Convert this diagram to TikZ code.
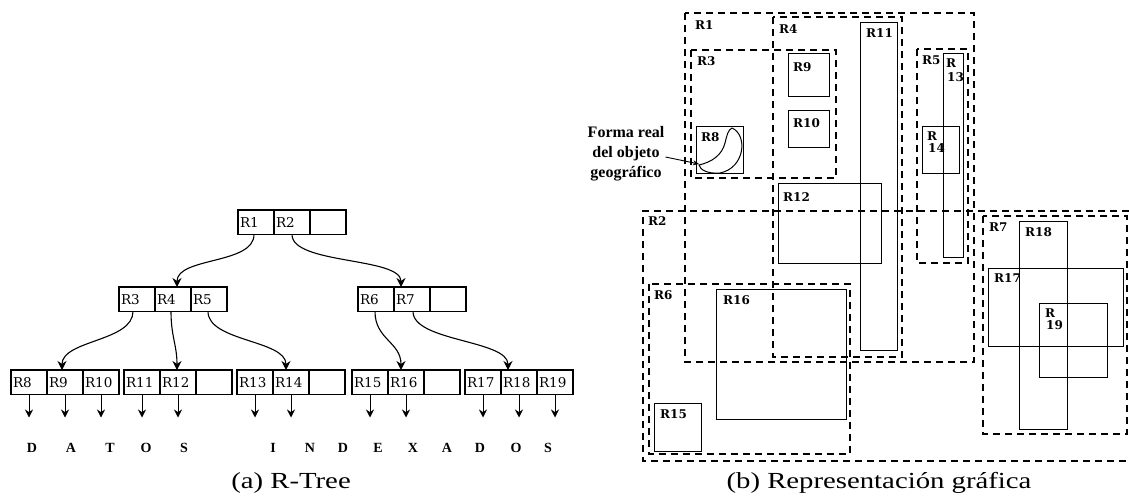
\documentclass[tikz,border=0pt]{standalone}
\usepackage{fontspec}
\usepackage{graphicx}
\setmainfont{Liberation Serif}
\newfontfamily\slabfont{DejaVu Serif}
\usetikzlibrary{arrows.meta}
\begin{document}
\begin{tikzpicture}[x=1pt,y=1pt,
  cell/.style={draw, line width=1.2pt, minimum width=36pt, minimum height=24.5pt, text width=32pt, inner sep=2pt, outer sep=0pt, align=left, font=\slabfont\fontsize{13.5}{13.5}\selectfont},
  treearrow/.style={line width=1.1pt, -{Stealth[length=9pt,width=9pt]}},
  dataarrow/.style={line width=1pt, -{Stealth[length=8pt,width=8pt]}},
  letter/.style={font=\bfseries\fontsize{14}{14}\selectfont, inner sep=0pt},
  mbr/.style={dash pattern=on 7pt off 5pt, line width=1.2pt},
  obj/.style={line width=1pt},
  rlab/.style={anchor=west, inner sep=0pt, font=\slabfont\bfseries\fontsize{12}{12}\selectfont},
  caption/.style={font=\fontsize{23}{23}\selectfont, inner sep=0pt}
]
\useasboundingbox (0,0) rectangle (1129,-497);

% ---------- (a) R-Tree ----------
% root
\node[cell, anchor=north west] (n1) at (238,-210) {R1};
\node[cell, anchor=west] (n2) at (n1.east) {R2};
\node[cell, anchor=west] (n0) at (n2.east) {};
% level 2
\node[cell, anchor=north west] (n3) at (119,-287) {R3};
\node[cell, anchor=west] (n4) at (n3.east) {R4};
\node[cell, anchor=west] (n5) at (n4.east) {R5};
\node[cell, anchor=north west] (n6) at (358,-287) {R6};
\node[cell, anchor=west] (n7) at (n6.east) {R7};
\node[cell, anchor=west] (nb) at (n7.east) {};
% leaves
\node[cell, anchor=north west] (n8) at (11,-370) {R8};
\node[cell, anchor=west] (n9) at (n8.east) {R9};
\node[cell, anchor=west] (n10) at (n9.east) {R10};
\node[cell, anchor=north west] (n11) at (124,-370) {R11};
\node[cell, anchor=west] (n12) at (n11.east) {R12};
\node[cell, anchor=west] (la) at (n12.east) {};
\node[cell, anchor=north west] (n13) at (237,-370) {R13};
\node[cell, anchor=west] (n14) at (n13.east) {R14};
\node[cell, anchor=west] (lb) at (n14.east) {};
\node[cell, anchor=north west] (n15) at (352,-370) {R15};
\node[cell, anchor=west] (n16) at (n15.east) {R16};
\node[cell, anchor=west] (lc) at (n16.east) {};
\node[cell, anchor=north west] (n17) at (465,-370) {R17};
\node[cell, anchor=west] (n18) at (n17.east) {R18};
\node[cell, anchor=west] (n19) at (n18.east) {R19};

% tree connectors
\draw[treearrow] ([xshift=-2pt]n1.south) .. controls +(0,-30) and +(0,30) .. ([xshift=4pt]n4.north);
\draw[treearrow] (n2.south) .. controls +(0,-30) and +(0,30) .. ([xshift=-11pt]n7.north);
\draw[treearrow] ([xshift=-4pt]n3.south) .. controls +(0,-30) and +(0,30) .. ([xshift=-3pt]n9.north);
\draw[treearrow] ([xshift=-2pt]n4.south) .. controls +(0,-25) and +(0,25) .. ([xshift=-1pt]n12.north);
\draw[treearrow] ([xshift=-1pt]n5.south) .. controls +(0,-30) and +(0,30) .. ([xshift=-5pt]n14.north);
\draw[treearrow] ([xshift=-1pt]n6.south) .. controls +(0,-28) and +(0,28) .. ([xshift=-5pt]n16.north);
\draw[treearrow] ([xshift=1pt]n7.south) .. controls +(0,-30) and +(0,30) .. ([xshift=-11pt]n18.north);

% data pointers
\foreach \c in {n8,n9,n10,n11,n12,n13,n14,n15,n16,n17,n18,n19}
  \draw[dataarrow] (\c.south) -- ++(0,-23) coordinate (\c-end);

% letters
\foreach \ch/\xx [count=\i] in {D/32,A/71,T/110,O/146,S/184,I/273,N/310,D/343,E/378,X/413,A/447,D/480,O/516,S/548}
  \node[letter] (let\i) at (\xx,-448) {\ch};

\node[caption] (capa) at (291,-483) {\scalebox{1.25}[1]{(a) R-Tree}};

% ---------- (b) Representacion grafica ----------
% dashed MBRs
\draw[mbr] (685,-13) rectangle (974,-362);
\draw[mbr] (773,-17) rectangle (902,-357);
\draw[mbr] (691,-50) rectangle (836,-178);
\draw[mbr] (917,-49) rectangle (968,-263);
\draw[mbr] (1129,-211) -- (643,-211) -- (643,-461) -- (1129,-461);
\draw[mbr] (649,-284) rectangle (850,-454);
\draw[mbr] (983,-216) rectangle (1127,-434);

% solid object rectangles
\draw[obj] (860,-23) rectangle (897,-350);
\draw[obj] (788,-54) rectangle (829,-97);
\draw[obj] (788,-111) rectangle (829,-148);
\draw[obj] (696,-127) rectangle (743,-174);
\draw[obj] (778,-184) rectangle (881,-263);
\draw[obj] (943,-54) rectangle (963,-257);
\draw[obj] (922,-127) rectangle (959,-174);
\draw[obj] (716,-289) rectangle (846,-419);
\draw[obj] (654,-403) rectangle (701,-451);
\draw[obj] (988,-268) rectangle (1123,-346);
\draw[obj] (1019,-221) rectangle (1067,-429);
\draw[obj] (1039,-303) rectangle (1107,-377);

% crescent object
\draw[obj] (732,-128) .. controls (748,-135) and (745,-168) .. (720,-173)
  .. controls (708,-174) and (700,-170) .. (699,-165)
  .. controls (712,-162) and (722,-155) .. (725,-143)
  .. controls (727,-135) and (728,-130) .. (732,-128);

% labels
\node[rlab] (lR1) at (695,-25) {R1};
\node[rlab] (lR4) at (779,-29) {R4};
\node[rlab] (lR3) at (697,-61) {R3};
\node[rlab] (lR9) at (793,-67) {R9};
\node[rlab] (lR10) at (793,-123) {R10};
\node[rlab] (lR8) at (701,-137) {R8};
\node[rlab] (lR12) at (783,-197) {R12};
\node[rlab] (lR2) at (648,-221) {R2};
\node[rlab] (lR11) at (866,-33) {R11};
\node[rlab] (lR5) at (922,-60) {R5};
\node[rlab] (lR13a) at (946,-63) {R};
\node[rlab] (lR13b) at (947,-77) {13};
\node[rlab] (lR14a) at (927,-136) {R};
\node[rlab] (lR14b) at (928,-148) {14};
\node[rlab] (lR7) at (989,-227) {R7};
\node[rlab] (lR18) at (1025,-232) {R18};
\node[rlab] (lR17) at (994,-278) {R17};
\node[rlab] (lR19a) at (1045,-313) {R};
\node[rlab] (lR19b) at (1046,-325) {19};
\node[rlab] (lR16) at (723,-300) {R16};
\node[rlab] (lR15) at (660,-414) {R15};
\node[rlab] (lR6) at (654,-295) {R6};

% annotation
\node[font=\bfseries\fontsize{16}{20}\selectfont, align=center, inner sep=1pt] (annot) at (626,-154) {Forma real\\del objeto\\geográfico};
\coordinate (blobtip) at (699,-164);
\draw[line width=0.9pt, -{Stealth[length=6pt,width=5pt]}] ([yshift=-3pt]annot.east) -- (blobtip);

\node[caption] (capb) at (879,-483) {\scalebox{1.25}[1]{(b) Representación gráfica}};
\end{tikzpicture}
\end{document}
